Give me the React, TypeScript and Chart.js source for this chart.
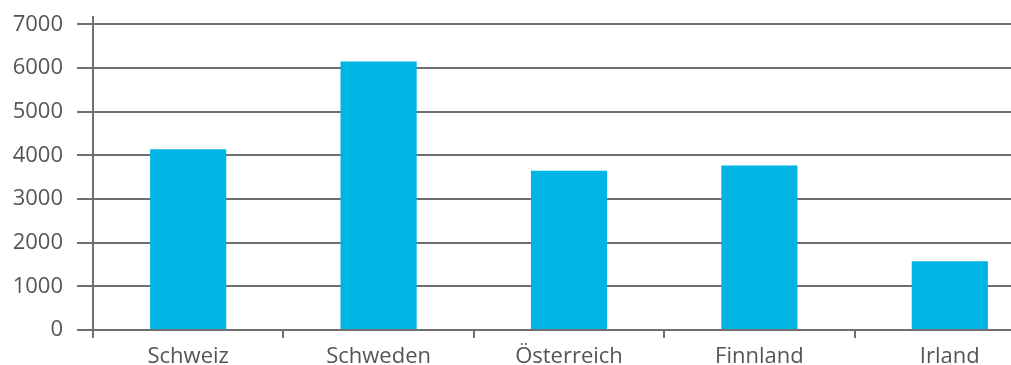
import React, { useEffect, useRef } from "react";
import { Chart, registerables } from "chart.js";

Chart.register(...registerables);

const categories = ["Schweiz", "Schweden", "Österreich", "Finnland", "Irland"];
const values = [4140, 6150, 3650, 3770, 1575];
const yTicks = [0, 1000, 2000, 3000, 4000, 5000, 6000, 7000];
const yMax = 7170;

const GRID = "#6f6f6f";
const TEXT = "#555555";
const BAR = "#00b5e6";

export default function App() {
  const ref = useRef<HTMLCanvasElement | null>(null);

  useEffect(() => {
    if (!ref.current) return;
    const chart = new Chart(ref.current, {
      type: "bar",
      data: {
        labels: categories,
        datasets: [
          {
            data: values,
            backgroundColor: BAR,
            borderWidth: 0,
            categoryPercentage: 1,
            barPercentage: 0.4,
          },
        ],
      },
      options: {
        animation: false,
        responsive: true,
        maintainAspectRatio: false,
        layout: { padding: { top: 9, right: 3, left: 0, bottom: 0 } },
        plugins: { legend: { display: false }, tooltip: { enabled: false } },
        scales: {
          x: {
            grid: {
              display: true,
              drawOnChartArea: false,
              drawTicks: true,
              tickLength: 8,
              color: GRID,
              lineWidth: 2,
            },
            border: { display: true, color: GRID, width: 2 },
            ticks: {
              color: TEXT,
              font: { family: "'Open Sans', sans-serif", size: 22 },
              padding: 6,
              maxRotation: 0,
            },
            afterFit: (scale: any) => {
              scale.height = 35;
              scale.paddingLeft = 0;
              scale.paddingRight = 0;
            },
          },
          y: {
            min: 0,
            max: yMax,
            grid: {
              color: GRID,
              lineWidth: 2,
              drawTicks: true,
              tickLength: 16,
            },
            border: { display: true, color: GRID, width: 2 },
            ticks: {
              color: TEXT,
              padding: 14,
              font: { family: "'Open Sans', sans-serif", size: 22 },
              callback: (v: any) => String(v),
            },
            afterBuildTicks: (scale: any) => {
              scale.ticks = yTicks.map((v) => ({ value: v }));
            },
            afterFit: (scale: any) => {
              scale.width = 85;
              scale.paddingTop = 0;
              scale.paddingBottom = 0;
            },
          },
        },
      },
    });
    return () => chart.destroy();
  }, []);

  return (
    <>
      <style>{"html,body{margin:0;padding:0;overflow:hidden;}"}</style>
      <div style={{ position: "relative", width: 1011, height: 365, overflow: "hidden" }}>
        <div style={{ position: "absolute", left: 8, top: 8, width: 1040, height: 357 }}>
          <canvas ref={ref} />
        </div>
      </div>
    </>
  );
}
